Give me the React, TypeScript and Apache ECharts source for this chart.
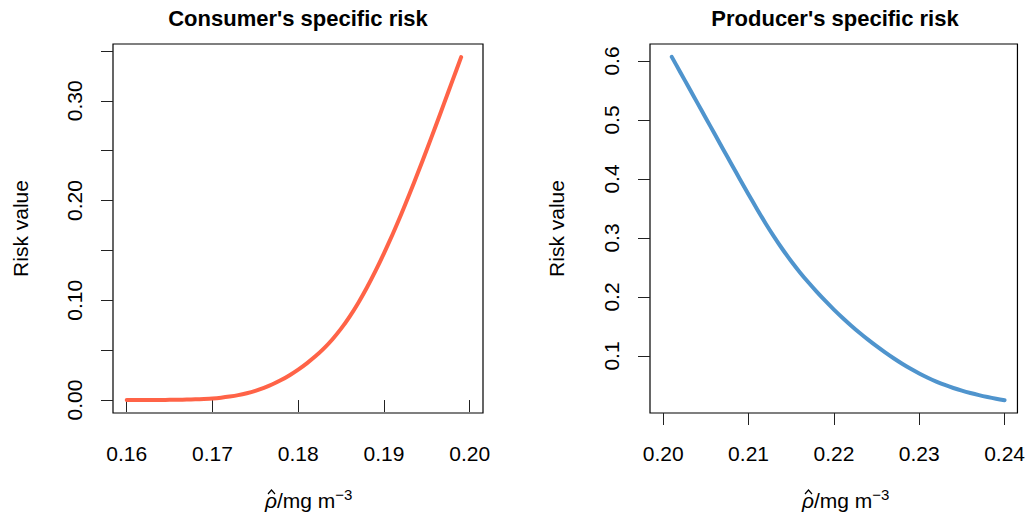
import React, { useEffect, useRef } from "react";
import * as echarts from "echarts";

// Estimated density values (mg m^-3) and the specific risk at each of them
const consumerRho = [
  0.160, 0.161, 0.162, 0.163, 0.164, 0.165, 0.166, 0.167, 0.168, 0.169,
  0.170, 0.171, 0.172, 0.173, 0.174, 0.175, 0.176, 0.177, 0.178, 0.179,
  0.180, 0.181, 0.182, 0.183, 0.184, 0.185, 0.186, 0.187, 0.188, 0.189,
  0.190, 0.191, 0.192, 0.193, 0.194, 0.195, 0.196, 0.197, 0.198, 0.199,
];
const consumerRisk = [
  0.0000, 0.0000, 0.0000, 0.0001, 0.0001, 0.0002, 0.0003, 0.0005, 0.0007, 0.0011,
  0.0016, 0.0024, 0.0035, 0.0049, 0.0068, 0.0092, 0.0122, 0.0158, 0.0200, 0.0249,
  0.0305, 0.0368, 0.0438, 0.0518, 0.0610, 0.0716, 0.0837, 0.0974, 0.1126, 0.1292,
  0.1471, 0.1660, 0.1860, 0.2070, 0.2288, 0.2512, 0.2740, 0.2972, 0.3205, 0.3438,
];

const producerRho = [
  0.201, 0.202, 0.203, 0.204, 0.205, 0.206, 0.207, 0.208, 0.209, 0.210,
  0.211, 0.212, 0.213, 0.214, 0.215, 0.216, 0.217, 0.218, 0.219, 0.220,
  0.221, 0.222, 0.223, 0.224, 0.225, 0.226, 0.227, 0.228, 0.229, 0.230,
  0.231, 0.232, 0.233, 0.234, 0.235, 0.236, 0.237, 0.238, 0.239, 0.240,
];
const producerRisk = [
  0.6070, 0.5810, 0.5550, 0.5290, 0.5030, 0.4770, 0.4510, 0.4251, 0.3993, 0.3738,
  0.3488, 0.3247, 0.3019, 0.2805, 0.2606, 0.2421, 0.2249, 0.2087, 0.1933, 0.1787,
  0.1649, 0.1518, 0.1394, 0.1277, 0.1166, 0.1061, 0.0962, 0.0869, 0.0783, 0.0704,
  0.0632, 0.0567, 0.0509, 0.0458, 0.0413, 0.0373, 0.0337, 0.0305, 0.0276, 0.0250,
];

// Axis ticks and labelled tick values
const consumerXTicks = [0.16, 0.17, 0.18, 0.19, 0.2];
const consumerYTicks = [0, 0.05, 0.1, 0.15, 0.2, 0.25, 0.3, 0.35];
const consumerYLabels = [0, 0.1, 0.2, 0.3];
const producerXTicks = [0.2, 0.21, 0.22, 0.23, 0.24];
const producerYTicks = [0.1, 0.2, 0.3, 0.4, 0.5, 0.6];

const titles = ["Consumer's specific risk", "Producer's specific risk"];
const yName = "Risk value";

const FONT = "'Liberation Sans', Arial, Helvetica, sans-serif";
const RED = "#FF6347";
const BLUE = "#4F94CD";

// Plot boxes in pixels
const BOX_TOP = 44;
const BOX_H = 369;
const BOX_W = 370;
const LEFT_BOX = 113;
const RIGHT_BOX = 650;

function xAxis(gridIndex: number, min: number, max: number, ticks: number[]) {
  return {
    type: "value",
    gridIndex,
    min,
    max,
    axisLine: { show: false },
    splitLine: { show: false },
    axisTick: {
      show: true,
      inside: false,
      length: 12,
      customValues: ticks,
      lineStyle: { color: "#222", width: 1 },
    },
    axisLabel: {
      customValues: ticks,
      formatter: (v: number) => v.toFixed(2),
      fontSize: 21,
      fontFamily: FONT,
      color: "#000",
      margin: 30,
    },
  };
}

function yAxis(
  gridIndex: number,
  min: number,
  max: number,
  ticks: number[],
  labels: number[],
  digits: number
) {
  return {
    type: "value",
    gridIndex,
    min,
    max,
    axisLine: { show: false },
    splitLine: { show: false },
    axisTick: {
      show: true,
      inside: false,
      length: 12,
      customValues: ticks,
      lineStyle: { color: "#222", width: 1 },
    },
    axisLabel: {
      customValues: labels,
      formatter: (v: number) => v.toFixed(digits),
      rotate: 90,
      fontSize: 21,
      fontFamily: FONT,
      color: "#000",
      margin: 28,
    },
  };
}

// x-axis title: italic rho with a hat, "/mg m" and a superscript -3
function xName(cx: number) {
  const left = cx - 44;
  return {
    type: "group",
    children: [
      {
        type: "text",
        x: left,
        y: 500,
        style: {
          text: "{i|ρ}/mg m{sup|−3}",
          textAlign: "left",
          textVerticalAlign: "middle",
          fontSize: 21,
          fontFamily: FONT,
          fill: "#000",
          lineHeight: 26,
          rich: {
            i: { fontStyle: "italic", fontSize: 21, fontFamily: FONT, fill: "#000" },
            sup: {
              fontSize: 15,
              fontFamily: FONT,
              fill: "#000",
              verticalAlign: "top",
            },
          },
        },
      },
      {
        type: "polyline",
        shape: {
          points: [
            [left + 3, 494],
            [left + 6.5, 490],
            [left + 10, 494],
          ],
        },
        style: { stroke: "#000", lineWidth: 1.2, fill: "none" },
      },
    ],
  };
}

function titleText(cx: number, text: string) {
  return {
    type: "text",
    x: cx,
    y: 18,
    style: {
      text,
      textAlign: "center",
      textVerticalAlign: "middle",
      fontSize: 22,
      fontWeight: "bold",
      fontFamily: FONT,
      fill: "#000",
    },
  };
}

function yNameText(x: number) {
  return {
    type: "text",
    x,
    y: BOX_TOP + BOX_H / 2,
    rotation: Math.PI / 2,
    style: {
      text: yName,
      textAlign: "center",
      textVerticalAlign: "middle",
      fontSize: 21,
      fontFamily: FONT,
      fill: "#000",
    },
  };
}

export default function App() {
  const ref = useRef<HTMLDivElement>(null);

  useEffect(() => {
    document.body.style.margin = "0";
    if (!ref.current) return;
    const chart = echarts.init(ref.current, undefined, { renderer: "svg" });

    const consumerData = consumerRho.map((x, i) => [x, consumerRisk[i]]);
    const producerData = producerRho.map((x, i) => [x, producerRisk[i]]);

    const gridBase = {
      top: BOX_TOP,
      width: BOX_W,
      height: BOX_H,
      show: true,
      borderColor: "#000",
      borderWidth: 1.2,
      backgroundColor: "transparent",
    };

    const option = {
      animation: false,
      backgroundColor: "#fff",
      grid: [
        { ...gridBase, left: LEFT_BOX },
        { ...gridBase, left: RIGHT_BOX },
      ],
      xAxis: [
        xAxis(0, 0.1584, 0.20155, consumerXTicks),
        xAxis(1, 0.19845, 0.24151, producerXTicks),
      ],
      yAxis: [
        yAxis(0, -0.013, 0.357, consumerYTicks, consumerYLabels, 2),
        yAxis(1, 0.0034, 0.6288, producerYTicks, producerYTicks, 1),
      ],
      series: [
        {
          type: "line",
          xAxisIndex: 0,
          yAxisIndex: 0,
          data: consumerData,
          showSymbol: false,
          smooth: 0.25,
          lineStyle: { color: RED, width: 4, cap: "round", join: "round" },
        },
        {
          type: "line",
          xAxisIndex: 1,
          yAxisIndex: 1,
          data: producerData,
          showSymbol: false,
          smooth: 0.25,
          lineStyle: { color: BLUE, width: 4, cap: "round", join: "round" },
        },
      ],
      graphic: [
        titleText(LEFT_BOX + BOX_W / 2, titles[0]),
        titleText(RIGHT_BOX + BOX_W / 2, titles[1]),
        yNameText(20),
        yNameText(556),
        xName(LEFT_BOX + BOX_W / 2 + 11),
        xName(RIGHT_BOX + BOX_W / 2 + 11),
      ],
    };

    chart.setOption(option as any);
    return () => chart.dispose();
  }, []);

  return <div ref={ref} style={{ width: 1028, height: 512 }} />;
}
